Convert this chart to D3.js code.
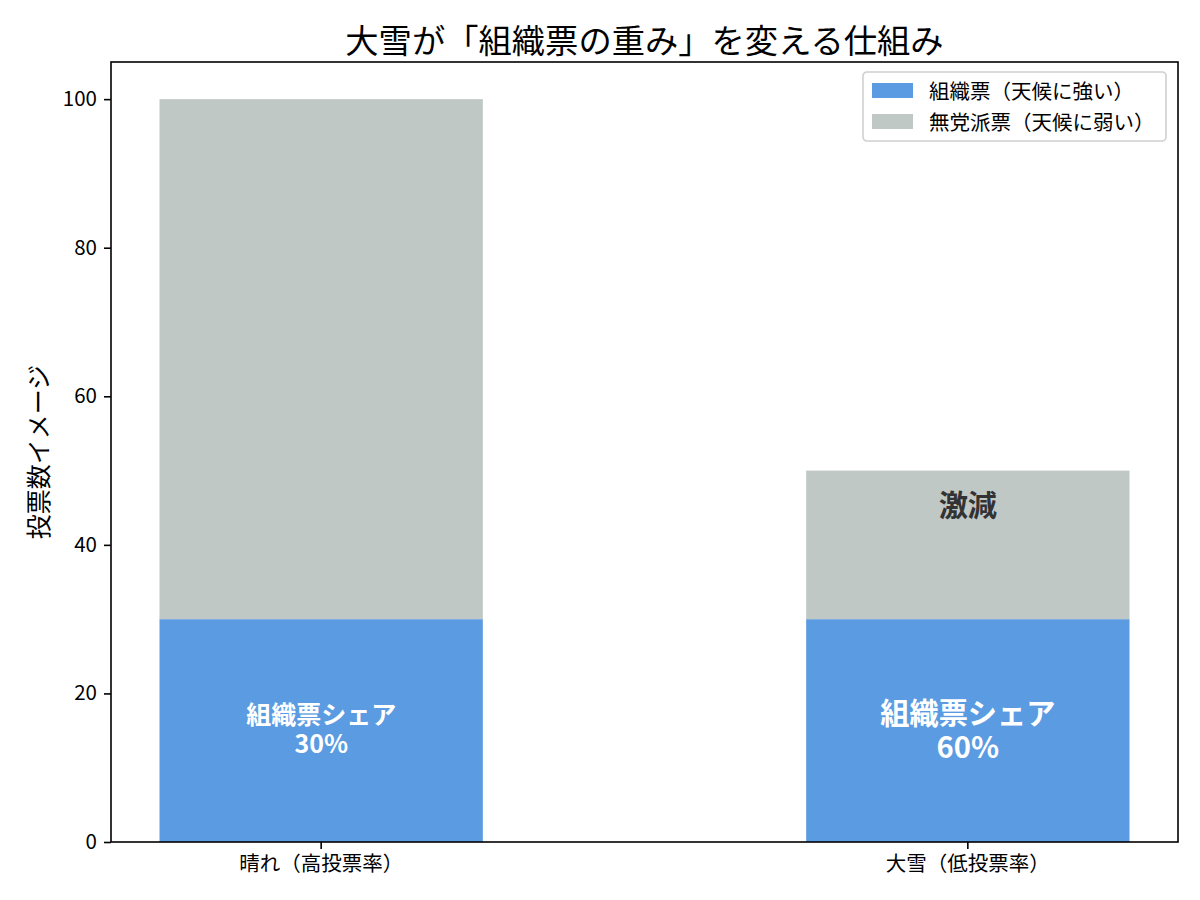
<!DOCTYPE html>
<html>
<head>
<meta charset="utf-8">
<script src="https://cdn.jsdelivr.net/npm/d3@7"></script>
<style>
    body { margin: 0; background: #fff; }
    text { font-family: "Noto Sans CJK JP", "Noto Sans", sans-serif; }
</style>
</head>
<body>
<div id="chart"></div>
<script>
// chart data
var categories = ["晴れ（高投票率）", "大雪（低投票率）"];
var orgVotes = [30, 30];
var indepVotes = [70, 20];
var shareLabels = ["30%", "60%"];
var seriesNames = ["組織票（天候に強い）", "無党派票（天候に弱い）"];
var yTicks = [0, 20, 40, 60, 80, 100];

var colors = ["#5b9be2", "#c0c8c6"];

var margin = {top: 62, right: 22, bottom: 58, left: 111};
var width = 1200 - margin.left - margin.right,
    height = 900 - margin.top - margin.bottom;

var svg = d3.select("#chart").append("svg")
    .attr("width", 1200)
    .attr("height", 900);

var g = svg.append("g")
    .attr("transform", "translate(" + margin.left + "," + margin.top + ")");

var x = d3.scaleBand()
    .domain(categories)
    .range([0, width])
    .paddingInner(0.5)
    .paddingOuter(0.075);

var y = d3.scaleLinear()
    .domain([0, 105])
    .range([height, 0]);

// bars: organised votes at bottom, independents stacked on top
var rows = categories.map(function(c, i) {
    return {cat: c, org: orgVotes[i], indep: indepVotes[i], label: shareLabels[i]};
});

g.selectAll(".bar-org")
    .data(rows)
    .enter().append("rect")
    .attr("class", "bar-org")
    .attr("x", function(d) { return x(d.cat); })
    .attr("width", x.bandwidth())
    .attr("y", function(d) { return y(d.org); })
    .attr("height", function(d) { return y(0) - y(d.org); })
    .style("fill", colors[0]);

g.selectAll(".bar-indep")
    .data(rows)
    .enter().append("rect")
    .attr("class", "bar-indep")
    .attr("x", function(d) { return x(d.cat); })
    .attr("width", x.bandwidth())
    .attr("y", function(d) { return y(d.org + d.indep); })
    .attr("height", function(d) { return y(d.org) - y(d.org + d.indep); })
    .style("fill", colors[1]);

// share labels inside blue bars
var labelSizes = [25, 29.2];
rows.forEach(function(d, i) {
    var cx = x(d.cat) + x.bandwidth() / 2;
    var cy = y(d.org / 2) - 3;
    var fs = labelSizes[i];
    var t = g.append("text")
        .attr("text-anchor", "middle")
        .style("font-size", fs + "px")
        .style("font-weight", "bold")
        .style("fill", "#fff");
    t.append("tspan")
        .attr("x", cx)
        .attr("y", cy - fs * 0.58)
        .attr("dominant-baseline", "central")
        .text("組織票シェア");
    t.append("tspan")
        .attr("x", cx)
        .attr("y", cy + fs * 0.58)
        .attr("dominant-baseline", "central")
        .text(d.label);
});

// "激減" annotation on the shrunken grey part
g.append("text")
    .attr("x", x(categories[1]) + x.bandwidth() / 2)
    .attr("y", y(45) - 5)
    .attr("text-anchor", "middle")
    .attr("dominant-baseline", "central")
    .style("font-size", "29.2px")
    .style("font-weight", "bold")
    .style("fill", "#333")
    .text("激減");

// axes
var yAxis = d3.axisLeft(y)
    .tickValues(yTicks)
    .tickSize(7)
    .tickPadding(7);

var yG = g.append("g").call(yAxis);
yG.select(".domain").remove();

var xAxis = d3.axisBottom(x)
    .tickSize(7)
    .tickPadding(7);

var xG = g.append("g")
    .attr("transform", "translate(0," + height + ")")
    .call(xAxis);
xG.select(".domain").remove();

g.selectAll(".tick line").style("stroke", "#000").style("stroke-width", 1.6);
g.selectAll(".tick text")
    .style("font-family", "'Noto Sans CJK JP', sans-serif")
    .style("font-size", "20.5px")
    .style("fill", "#000");

// frame
g.append("rect")
    .attr("width", width)
    .attr("height", height)
    .style("fill", "none")
    .style("stroke", "#000")
    .style("stroke-width", 1.6);

// y label
svg.append("text")
    .attr("transform", "translate(37," + (margin.top + height / 2) + ") rotate(-90)")
    .attr("text-anchor", "middle")
    .attr("dominant-baseline", "central")
    .style("font-size", "25px")
    .text("投票数イメージ");

// title
svg.append("text")
    .attr("x", margin.left + width / 2)
    .attr("y", 38)
    .attr("text-anchor", "middle")
    .attr("dominant-baseline", "central")
    .style("font-size", "33.3px")
    .text("大雪が「組織票の重み」を変える仕組み");

// legend
var legend = svg.append("g")
    .attr("transform", "translate(863,72)");

legend.append("rect")
    .attr("width", 303)
    .attr("height", 69)
    .attr("rx", 4)
    .style("fill", "#fff")
    .style("fill-opacity", 0.8)
    .style("stroke", "#d0d0d0")
    .style("stroke-width", 1.6);

var item = legend.selectAll(".legend-item")
    .data(seriesNames)
    .enter().append("g")
    .attr("class", "legend-item")
    .attr("transform", function(d, i) { return "translate(0," + (18 + i * 31) + ")"; });

item.append("rect")
    .attr("x", 9)
    .attr("y", -7)
    .attr("width", 41)
    .attr("height", 15)
    .style("fill", function(d, i) { return colors[i]; });

item.append("text")
    .attr("x", 66)
    .attr("dominant-baseline", "central")
    .style("font-size", "20.5px")
    .text(function(d) { return d; });
</script>
</body>
</html>
